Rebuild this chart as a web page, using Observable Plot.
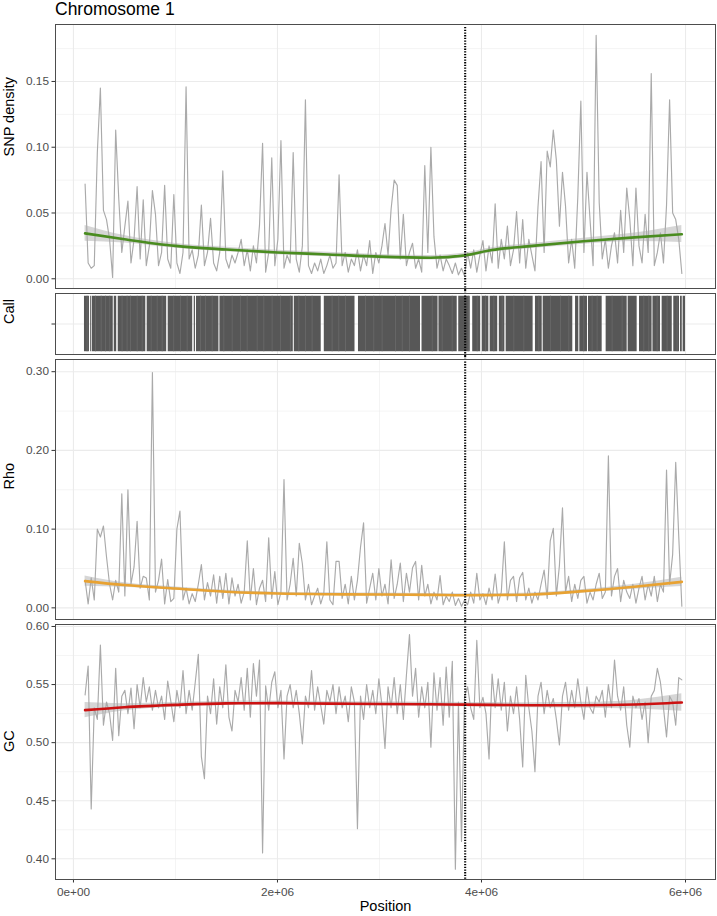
<!DOCTYPE html>
<html><head><meta charset="utf-8">
<script src="https://cdn.jsdelivr.net/npm/d3@7"></script>
<script src="https://cdn.jsdelivr.net/npm/@observablehq/plot@0.6"></script>
<style>
body{margin:0;background:#fff;font-family:"Liberation Sans",Arial,sans-serif;}
#chart{width:717px;}
#title{height:21px;padding-top:1px;padding-left:55px;font-size:17.5px;line-height:17px;color:#000;}
svg{display:block;overflow:visible;}
</style></head><body><div id="chart"><div id="title">Chromosome 1</div></div>
<script>
// ---- data ----
const windowStart = 114000, windowStep = 30000;
const snpDensity = [
0.072,0.012,0.008,0.010,0.096,0.145,0.052,0.045,0.030,0.001,
0.113,0.061,0.020,0.040,0.059,0.012,0.030,0.070,0.015,0.060,
0.010,0.025,0.067,0.049,0.010,0.020,0.071,0.015,0.008,0.064,
0.012,0.004,0.020,0.146,0.015,0.022,0.008,0.018,0.056,0.010,
0.020,0.046,0.012,0.006,0.020,0.082,0.015,0.008,0.018,0.012,
0.020,0.030,0.010,0.022,0.006,0.025,0.012,0.041,0.103,0.005,
0.020,0.092,0.010,0.030,0.105,0.008,0.018,0.012,0.096,0.015,
0.005,0.025,0.136,0.010,0.004,0.012,0.006,0.015,0.004,0.010,
0.018,0.008,0.012,0.079,0.010,0.020,0.005,0.015,0.010,0.022,
0.006,0.018,0.010,0.029,0.004,0.020,0.012,0.025,0.042,0.018,
0.053,0.075,0.071,0.015,0.049,0.010,0.020,0.027,0.008,0.015,
0.005,0.086,0.020,0.100,0.032,0.008,0.018,0.006,0.015,0.010,
0.004,0.012,0.003,0.008,0.002,0.020,0.008,0.022,0.005,0.018,
0.029,0.006,0.025,0.012,0.057,0.008,0.030,0.015,0.040,0.010,
0.022,0.051,0.012,0.045,0.008,0.030,0.018,0.006,0.055,0.089,
0.020,0.097,0.085,0.113,0.090,0.040,0.081,0.055,0.012,0.030,
0.008,0.062,0.135,0.020,0.081,0.045,0.010,0.185,0.058,0.015,
0.030,0.008,0.025,0.035,0.012,0.052,0.020,0.069,0.045,0.010,
0.069,0.025,0.012,0.049,0.020,0.156,0.010,0.020,0.035,0.012,
0.056,0.136,0.050,0.045,0.030,0.004];
const rho = [
0.035,0.005,0.038,0.010,0.100,0.090,0.104,0.065,0.030,0.010,
0.035,0.020,0.145,0.015,0.150,0.030,0.052,0.110,0.025,0.040,
0.038,0.010,0.299,0.020,0.035,0.062,0.005,0.036,0.008,0.012,
0.100,0.123,0.010,0.025,0.005,0.018,0.008,0.030,0.055,0.010,
0.032,0.015,0.042,0.006,0.040,0.012,0.044,0.005,0.038,0.015,
0.030,0.006,0.020,0.085,0.010,0.050,0.004,0.025,0.035,0.008,
0.089,0.012,0.046,0.004,0.020,0.163,0.010,0.030,0.063,0.015,
0.082,0.056,0.010,0.030,0.004,0.015,0.025,0.005,0.018,0.084,
0.010,0.004,0.059,0.059,0.012,0.030,0.005,0.040,0.010,0.035,
0.077,0.108,0.006,0.025,0.044,0.010,0.050,0.015,0.030,0.005,
0.061,0.012,0.030,0.057,0.008,0.044,0.020,0.051,0.059,0.010,
0.054,0.015,0.030,0.005,0.020,0.010,0.041,0.004,0.015,0.008,
0.020,0.003,0.012,0.002,0.010,0.004,0.020,0.006,0.044,0.010,
0.018,0.004,0.025,0.010,0.043,0.006,0.020,0.084,0.010,0.035,
0.040,0.008,0.038,0.045,0.010,0.025,0.006,0.020,0.010,0.030,
0.048,0.012,0.085,0.101,0.015,0.054,0.127,0.020,0.040,0.008,
0.030,0.012,0.035,0.040,0.006,0.020,0.010,0.030,0.044,0.012,
0.020,0.193,0.015,0.040,0.050,0.008,0.035,0.020,0.012,0.030,
0.006,0.025,0.040,0.010,0.030,0.015,0.040,0.008,0.030,0.020,
0.175,0.030,0.068,0.185,0.090,0.002];
const gc = [
0.541,0.566,0.443,0.530,0.520,0.584,0.515,0.535,0.525,0.502,
0.564,0.506,0.540,0.545,0.525,0.547,0.512,0.550,0.530,0.556,
0.535,0.548,0.528,0.545,0.530,0.540,0.520,0.553,0.536,0.518,
0.545,0.530,0.562,0.525,0.545,0.528,0.552,0.576,0.488,0.469,
0.540,0.525,0.555,0.516,0.548,0.530,0.567,0.522,0.510,0.545,
0.535,0.556,0.528,0.564,0.522,0.568,0.540,0.571,0.405,0.549,
0.528,0.552,0.561,0.530,0.545,0.486,0.540,0.550,0.530,0.545,
0.525,0.499,0.540,0.530,0.562,0.528,0.548,0.532,0.516,0.545,
0.535,0.550,0.525,0.548,0.530,0.540,0.518,0.548,0.535,0.426,
0.540,0.520,0.550,0.530,0.545,0.525,0.555,0.532,0.495,0.548,
0.530,0.556,0.525,0.550,0.520,0.558,0.593,0.540,0.564,0.522,
0.548,0.530,0.552,0.496,0.560,0.528,0.556,0.515,0.565,0.522,
0.570,0.391,0.535,0.415,0.540,0.548,0.530,0.520,0.588,0.530,
0.539,0.525,0.486,0.559,0.530,0.555,0.528,0.552,0.510,0.540,
0.525,0.548,0.520,0.479,0.558,0.530,0.510,0.475,0.540,0.552,
0.525,0.545,0.530,0.538,0.520,0.498,0.540,0.552,0.528,0.545,
0.530,0.555,0.535,0.520,0.548,0.530,0.525,0.540,0.535,0.545,
0.522,0.550,0.530,0.571,0.540,0.528,0.548,0.515,0.496,0.540,
0.530,0.538,0.520,0.535,0.500,0.540,0.545,0.564,0.552,0.530,
0.505,0.540,0.535,0.515,0.556,0.554];

const smoothPos = [114000,500000,1000000,1500000,2000000,2500000,3000000,3500000,3840000,4100000,4500000,5000000,5500000,5964000];
const snpSmooth = [0.0345,0.0300,0.0250,0.0222,0.0200,0.0185,0.0168,0.0160,0.0178,0.0218,0.0250,0.0285,0.0315,0.0338];
const snpLow    = [0.0285,0.0272,0.0232,0.0205,0.0183,0.0168,0.0151,0.0143,0.0160,0.0200,0.0231,0.0262,0.0283,0.0275];
const snpHigh   = [0.0405,0.0328,0.0268,0.0239,0.0217,0.0202,0.0185,0.0177,0.0196,0.0236,0.0269,0.0308,0.0347,0.0405];
const rhoSmooth = [0.0340,0.0290,0.0245,0.0205,0.0182,0.0173,0.0170,0.0165,0.0160,0.0162,0.0170,0.0212,0.0268,0.0330];
const rhoLow    = [0.0275,0.0262,0.0225,0.0187,0.0165,0.0155,0.0152,0.0147,0.0142,0.0144,0.0150,0.0190,0.0235,0.0270];
const rhoHigh   = [0.0405,0.0318,0.0265,0.0223,0.0199,0.0191,0.0188,0.0183,0.0178,0.0180,0.0190,0.0234,0.0301,0.0390];
const gcSmooth  = [0.5280,0.5305,0.5325,0.5338,0.5340,0.5336,0.5333,0.5330,0.5327,0.5325,0.5322,0.5322,0.5328,0.5345];
const gcLow     = [0.5215,0.5275,0.5305,0.5320,0.5322,0.5318,0.5315,0.5312,0.5308,0.5305,0.5300,0.5297,0.5290,0.5270];
const gcHigh    = [0.5345,0.5335,0.5345,0.5356,0.5358,0.5354,0.5351,0.5348,0.5346,0.5345,0.5344,0.5347,0.5366,0.5420];

const callStart = [108000,167000,184000,400000,439000,723000,929000,1184000,1206000,1436000,2165000,2459000,2794000,3417000,3583000,3777000,3914000,4008000,4085000,4175000,4242000,4529000,4605000,4922000,4964000,5049000,5222000,5438000,5549000,5681000,5771000,5885000,5951000,5977000];
const callEnd   = [157000,175000,390000,424000,709000,914000,1169000,1196000,1426000,2155000,2429000,2760000,3402000,3574000,3762000,3890000,3992000,4072000,4159000,4229000,4506000,4595000,4895000,4954000,5039000,5183000,5428000,5526000,5672000,5755000,5870000,5941000,5968000,6000000];
// sparser call stretches (lighter streaks inside the dark blocks)
const callSparse = [134000,216000,272000,314000,356000,477000,526000,559000,625000,674000,762000,821000,870000,983000,1049000,1115000,1245000,1294000,1360000,1474000,1556000,1637000,1703000,1801000,1866000,1948000,2030000,2127000,2209000,2275000,2340000,2536000,2601000,2667000,2863000,2944000,3026000,3157000,3223000,3294000,3517000,3615000,3713000,3870000,3958000,4039000,4121000,4203000,4317000,4415000,4562000,4676000,4775000,4856000,5003000,5085000,5134000,5281000,5379000,5591000,5640000,5722000,5820000,5918000];

const centromere = 3840000;
const xTicks = [0, 2000000, 4000000, 6000000];
const xTickLabels = ["0e+00", "2e+06", "4e+06", "6e+06"];
const xMinor = [1000000, 3000000, 5000000];
const snpTicks = [0, 0.05, 0.10, 0.15];
const snpTickLabels = ["0.00", "0.05", "0.10", "0.15"];
const snpMinor = [0.025, 0.075, 0.125, 0.175];
const rhoTicks = [0, 0.1, 0.2, 0.3];
const rhoTickLabels = ["0.00", "0.10", "0.20", "0.30"];
const rhoMinor = [0.05, 0.15, 0.25];
const gcTicks = [0.40, 0.45, 0.50, 0.55, 0.60];
const gcTickLabels = ["0.40", "0.45", "0.50", "0.55", "0.60"];
const gcMinor = [0.425, 0.475, 0.525, 0.575];
const callTicks = [1];
const callTickLabels = [""];
const panelLabels = ["SNP density", "Call", "Rho", "GC"];
const xLabel = "Position";

// ---- tables ----
const windows = (vals) => vals.map((v, i) => ({pos: windowStart + i * windowStep, v}));
const smoothTable = (mid, lo, hi) => smoothPos.map((p, i) => ({pos: p, mid: mid[i], lo: lo[i], hi: hi[i]}));
const calls = callStart.map((s, i) => ({s, e: callEnd[i]}));

const FONT = "'Liberation Sans', Arial, Helvetica, sans-serif";
const xDomain = [-176000, 6294000];
const GRID = "#ebebeb";
const TICKFONT = 11.8;

function grid(major, minor) {
  return [
    Plot.ruleY(minor, {stroke: GRID, strokeWidth: 0.55}),
    Plot.ruleX(xMinor, {stroke: GRID, strokeWidth: 0.55}),
    Plot.ruleY(major, {stroke: GRID, strokeWidth: 1.1}),
    Plot.ruleX(xTicks, {stroke: GRID, strokeWidth: 1.1})
  ];
}
function yAxis(ticks, labels) {
  return Plot.axisY(ticks, {tickFormat: (d, i) => labels[i], tickSize: 3.5, tickPadding: 3,
    fontSize: TICKFONT, fill: "#4d4d4d", stroke: "#333", label: null});
}
function yTitle(t) {
  return Plot.text([t], {frameAnchor: "left", dx: -46.5, rotate: -90, fontSize: 14.5, fill: "#000"});
}
function dotted(top, bottom) {
  return Plot.ruleX([centromere], {stroke: "#000", strokeWidth: 2.1, strokeDasharray: "1.3,1.4", insetTop: top, insetBottom: bottom});
}
function panel(opts, marks, withX) {
  const p = Plot.plot({
    width: 717, height: opts.height,
    marginLeft: 55, marginRight: 2, marginTop: opts.mt, marginBottom: opts.mb,
    style: {fontFamily: FONT, fontSize: TICKFONT + "px", background: "white", overflow: "visible"},
    x: {domain: xDomain, axis: withX ? undefined : null},
    y: {domain: opts.yDomain},
    marks: [...marks, Plot.frame({stroke: "#4d4d4d", strokeWidth: 1})]
  });
  document.getElementById("chart").appendChild(p);
}
const LINE = {stroke: "#aaaaaa", strokeWidth: 1.15};

// Panel 1: SNP density
panel({height: 268, mt: 2, mb: 2, yDomain: [-0.0074, 0.1933]}, [
  ...grid(snpTicks, snpMinor),
  Plot.areaY(smoothTable(snpSmooth, snpLow, snpHigh), {x: "pos", y1: "lo", y2: "hi", fill: "#999", fillOpacity: 0.4, curve: "monotone-x"}),
  Plot.lineY(windows(snpDensity), {x: "pos", y: "v", ...LINE}),
  Plot.lineY(smoothTable(snpSmooth, snpLow, snpHigh), {x: "pos", y: "mid", stroke: "#4a8c20", strokeWidth: 2.6, curve: "monotone-x"}),
  dotted(3, -2),
  yAxis(snpTicks, snpTickLabels),
  yTitle(panelLabels[0])
], false);

// Panel 2: Call
panel({height: 66, mt: 3, mb: 2, yDomain: [0.45, 1.55]}, [
  ...grid(callTicks, []),
  Plot.rect(calls, {x1: "s", x2: "e", y1: 0.5, y2: 1.5, fill: "#575757"}),
  Plot.ruleX(callSparse, {y1: 0.5, y2: 1.5, stroke: "#676767", strokeWidth: 1}),
  dotted(-3, -2),
  yAxis(callTicks, callTickLabels),
  yTitle(panelLabels[1])
], false);

// Panel 3: Rho
panel({height: 265, mt: 3, mb: 2, yDomain: [-0.0148, 0.3155]}, [
  ...grid(rhoTicks, rhoMinor),
  Plot.areaY(smoothTable(rhoSmooth, rhoLow, rhoHigh), {x: "pos", y1: "lo", y2: "hi", fill: "#999", fillOpacity: 0.4, curve: "monotone-x"}),
  Plot.lineY(windows(rho), {x: "pos", y: "v", ...LINE}),
  Plot.lineY(smoothTable(rhoSmooth, rhoLow, rhoHigh), {x: "pos", y: "mid", stroke: "#e8a232", strokeWidth: 2.6, curve: "monotone-x"}),
  dotted(-3, -2),
  yAxis(rhoTicks, rhoTickLabels),
  yTitle(panelLabels[2])
], false);

// Panel 4: GC
panel({height: 295, mt: 3, mb: 37, yDomain: [0.3822, 0.6017]}, [
  ...grid(gcTicks, gcMinor),
  Plot.areaY(smoothTable(gcSmooth, gcLow, gcHigh), {x: "pos", y1: "lo", y2: "hi", fill: "#999", fillOpacity: 0.4, curve: "monotone-x"}),
  Plot.lineY(windows(gc), {x: "pos", y: "v", ...LINE}),
  Plot.lineY(smoothTable(gcSmooth, gcLow, gcHigh), {x: "pos", y: "mid", stroke: "#cc1111", strokeWidth: 2.6, curve: "monotone-x"}),
  dotted(-3, 0),
  yAxis(gcTicks, gcTickLabels),
  Plot.axisX(xTicks, {tickFormat: (d, i) => xTickLabels[i], tickSize: 3.5, tickPadding: 5, fontSize: TICKFONT, fill: "#4d4d4d", stroke: "#333", label: null}),
  yTitle(panelLabels[3]),
  Plot.text([xLabel], {frameAnchor: "bottom", dy: 31, fontSize: 14.5, fill: "#000"})
], true);
</script></body></html>
